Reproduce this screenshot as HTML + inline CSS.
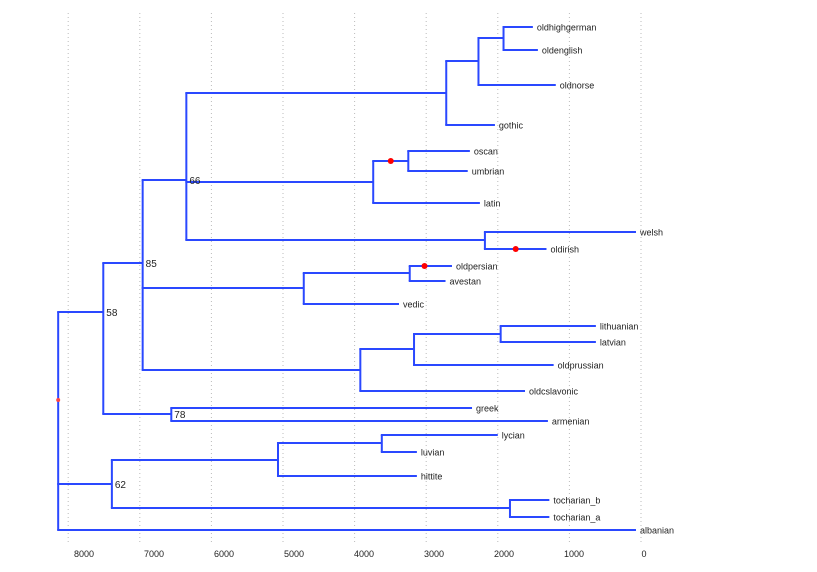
<!DOCTYPE html>
<html><head><meta charset="utf-8"><style>
html,body{margin:0;padding:0;background:#fff;}
svg{display:block;font-family:"Liberation Sans",sans-serif;}
</style></head><body>
<svg id="chart" width="817" height="572"></svg>
<script>
// tick values (years before present)
const tickValues = [8000,7000,6000,5000,4000,3000,2000,1000,0];
const tickLabels = ["8000","7000","6000","5000","4000","3000","2000","1000","0"];
// leaf names and ages
const leafNames = ["oldhighgerman","oldenglish","oldnorse","gothic","oscan","umbrian","latin","welsh","oldirish","oldpersian","avestan","vedic","lithuanian","latvian","oldprussian","oldcslavonic","greek","armenian","lycian","luvian","hittite","tocharian_b","tocharian_a","albanian"];
const leafAges = [1510,1440,1190,2040,2390,2420,2250,70,1320,2640,2730,3380,630,630,1220,1620,2360,1300,2000,3130,3130,1280,1280,70];
const leafRows = [27,50,85,125,151,171,203,232,249,266,281,304,326,342,365,391,408,421,435,452,476,500,517,530];
// internal nodes: name, age, children, support label
const nodeNames = ["wg1","wg","germ","oscumb","italic","celtic","n66","iran","indoir","balt1","balt","bs","n85","grarm","n58","anat1","anat","toch","n62","root"];
const nodeAges = [1920,2270,2720,3250,3740,2180,6350,3230,4710,1960,3170,3920,6960,6560,7510,3620,5070,1830,7390,8140];
const nodeChildren = [["oldhighgerman","oldenglish"],["wg1","oldnorse"],["wg","gothic"],["oscan","umbrian"],["oscumb","latin"],["welsh","oldirish"],["germ","italic","celtic"],["oldpersian","avestan"],["iran","vedic"],["lithuanian","latvian"],["balt1","oldprussian"],["balt","oldcslavonic"],["n66","indoir","bs"],["greek","armenian"],["n85","grarm"],["lycian","luvian"],["anat1","hittite"],["tocharian_b","tocharian_a"],["anat","toch"],["n58","n62","albanian"]];
const nodeRows = [38,61,93,161,182,240,180,273,288,334,349,370,263,414,312,443,460,508,484,400];
const nodeSupport = ["","","","","","","66","","","","","","85","78","58","","","","62",""];
// red markers
const markerNodes = ["root"];
const markerBranches = [["oscumb",0.5],["oldirish",0.5],["oldpersian",0.35]];

const svg = document.getElementById('chart');
const NS = 'http://www.w3.org/2000/svg';
const X0 = 641, K = 0.0716;
function xScale(t){ return X0 - t*K; }
function labelX(t){ return 84 + (8000 - t)*0.07; }
function mk(tag, attrs, name){
  const e = document.createElementNS(NS, tag);
  for (const k in attrs) e.setAttribute(k, attrs[k]);
  
  
  svg.appendChild(e); return e;
}
// grid and ticks
tickValues.forEach((v,i)=>{
  const x = xScale(v);
  mk('line',{x1:x,x2:x,y1:13,y2:545,stroke:'#bbb','stroke-width':1,'stroke-dasharray':'1,3'},'grid-line');
  const t = mk('text',{x:labelX(v),y:557,'font-size':9,'text-anchor':'middle',fill:'#222'},'x-tick-label');
  t.textContent = tickLabels[i];
});
// positions
const pos = {};
leafNames.forEach((n,i)=>{ pos[n] = {x:xScale(leafAges[i]), y:leafRows[i]}; });
nodeNames.forEach((n,i)=>{ pos[n] = {x:xScale(nodeAges[i]), y:nodeRows[i]}; });
const col = '#2a48ff';
nodeNames.forEach((n,i)=>{
  const p = pos[n];
  const ys = nodeChildren[i].map(c=>pos[c].y);
  mk('line',{x1:p.x,x2:p.x,y1:Math.min(...ys),y2:Math.max(...ys),stroke:col,'stroke-width':2},'branch-vertical');
  nodeChildren[i].forEach(c=>{
    mk('line',{x1:p.x-1,x2:pos[c].x,y1:pos[c].y,y2:pos[c].y,stroke:col,'stroke-width':2},'branch-'+c);
  });
  if (nodeSupport[i]) {
    const t = mk('text',{x:p.x+3,y:p.y+4,'font-size':10,fill:'#222'},'support-label');
    t.textContent = nodeSupport[i];
  }
});
leafNames.forEach((n)=>{
  const t = mk('text',{x:pos[n].x+4,y:pos[n].y+3.5,'font-size':9,fill:'#222'},'leaf-label');
  t.textContent = n;
});
// parent lookup for branch markers
const parent = {};
nodeNames.forEach((n,i)=>nodeChildren[i].forEach(c=>parent[c]=n));
markerBranches.forEach(([c,f])=>{
  const px = pos[parent[c]].x, cx = pos[c].x;
  mk('circle',{cx:px+(cx-px)*f,cy:pos[c].y,r:3,fill:'#f00'},'event-marker');
});
markerNodes.forEach(n=>{
  mk('circle',{cx:pos[n].x,cy:pos[n].y,r:2,fill:'#f44'},'root-marker');
});
</script>
</body></html>
